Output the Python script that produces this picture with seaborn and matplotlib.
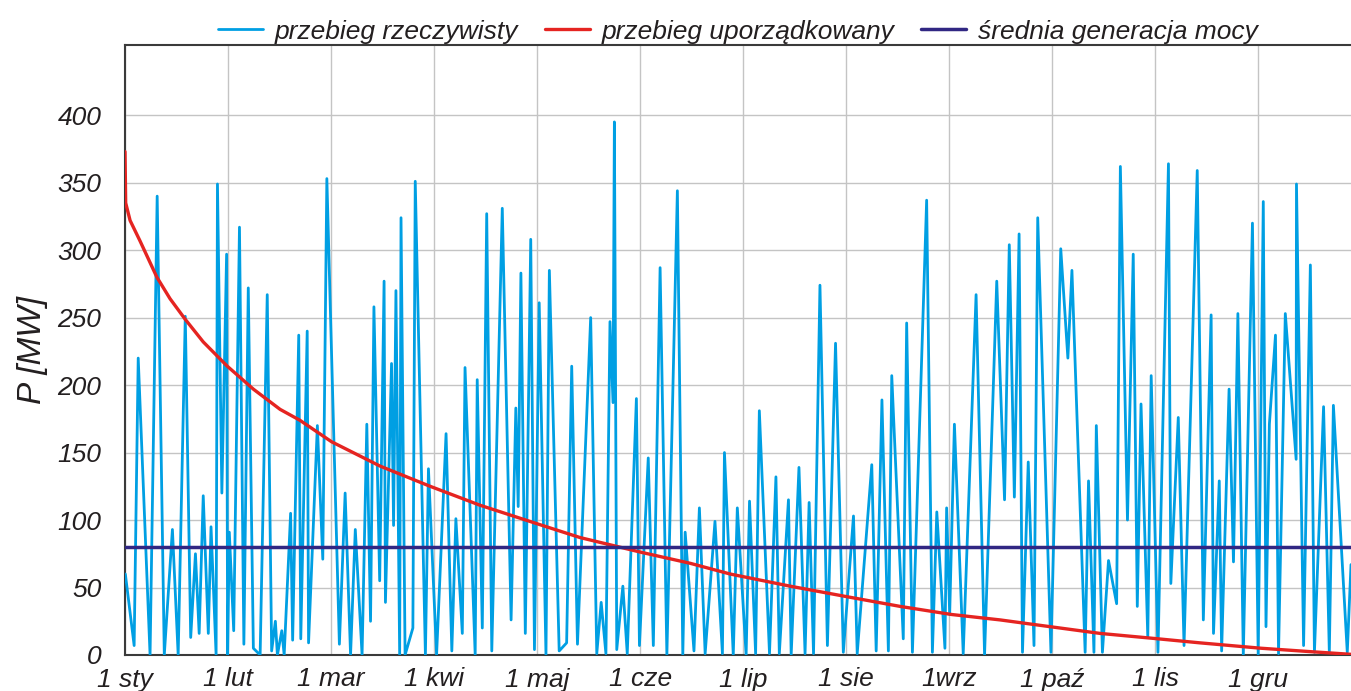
import seaborn as sns
import matplotlib.pyplot as plt
import pandas as pd

# dzien roku (przeliczony z osi) i moc [MW] - przebieg rzeczywisty
dni = [0.1, 2.7, 3.9, 7.4, 9.5, 11.6, 14.0, 15.7, 17.8, 19.4, 20.8, 21.9, 23.1, 24.6, 25.4, 26.9,
       27.3, 28.6, 30.0, 30.3, 30.8, 32.1, 33.8, 35.1, 36.4, 37.9, 39.9, 42.0, 43.3, 44.4, 45.0,
       46.3, 47.0, 48.9, 49.5, 51.3, 51.9, 53.8, 54.2, 56.8, 58.4, 59.6, 63.3, 65.0, 66.6, 68.0,
       70.0, 71.4, 72.5, 73.5, 75.2, 76.5, 76.9, 78.7, 79.3, 80.0, 81.1, 81.5, 82.7, 85.0, 85.7,
       88.7, 89.6, 92.0, 94.8, 96.5, 97.7, 99.6, 100.4, 103.4, 104.0, 105.5, 106.8, 108.3, 111.4,
       114.0, 115.4, 116.1, 116.9, 118.2, 119.8, 120.9, 122.3, 124.3, 125.3, 128.2, 130.4, 131.9,
       133.6, 137.5, 139.3, 140.6, 142.0, 143.2, 144.1, 144.5, 145.2, 147.0, 148.3, 151.0, 151.9,
       154.5, 156.0, 158.0, 160.0, 163.1, 164.7, 165.4, 168.0, 169.6, 171.3, 174.2, 176.4, 177.0,
       179.6, 180.8, 183.4, 184.4, 186.2, 187.3, 190.3, 192.2, 193.2, 195.9, 196.7, 199.0, 200.8,
       202.0, 203.3, 205.2, 207.4, 209.8, 212.1, 215.1, 216.2, 220.5, 221.8, 223.5, 225.4, 226.4,
       229.8, 230.8, 232.5, 236.7, 238.4, 239.7, 242.1, 242.6, 243.5, 244.9, 247.5, 251.3, 253.8,
       257.4, 259.7, 261.1, 262.6, 264.0, 265.0, 266.7, 268.4, 269.5, 273.4, 276.3, 278.4, 279.6,
       283.5, 284.5, 286.1, 286.8, 288.6, 290.4, 292.8, 293.9, 296.0, 297.7, 298.9, 300.0, 302.0,
       303.0, 305.0, 308.1, 308.8, 311.0, 312.7, 316.6, 318.4, 320.7, 321.4, 323.1, 323.8, 326.0,
       327.3, 328.6, 330.2, 332.9, 334.6, 336.1, 336.9, 337.9, 339.7, 340.6, 342.6, 345.8, 345.9,
       348.0, 350.0, 351.2, 353.9, 355.6, 356.8, 360.9, 362.0]
moc = [60, 7, 220, 0, 340, 0, 93, 0, 251, 13, 75, 16, 118, 16, 95, 0,
       349, 120, 297, 0, 91, 18, 317, 8, 272, 5, 0, 267, 3, 25, 0,
       18, 0, 105, 11, 237, 12, 240, 9, 170, 71, 353, 8, 120, 0, 93,
       0, 171, 25, 258, 55, 277, 39, 216, 96, 270, 0, 324, 0, 20, 351,
       0, 138, 0, 164, 3, 101, 16, 213, 0, 204, 20, 327, 3, 331,
       26, 183, 110, 283, 16, 308, 4, 261, 0, 285, 3, 9, 214,
       8, 250, 1, 39, 1, 247, 187, 395, 4, 51, 1, 190, 7,
       146, 7, 287, 0, 344, 0, 91, 3, 109, 1, 99, 1, 150,
       0, 109, 0, 114, 1, 181, 1, 132, 1, 115, 0, 139, 1,
       113, 1, 274, 7, 231, 2, 103, 1, 141, 3, 189, 3, 207,
       12, 246, 2, 337, 2, 106, 5, 109, 30, 171, 1, 267, 0,
       277, 115, 304, 117, 312, 2, 143, 7, 324, 2, 301, 220, 285,
       2, 129, 2, 170, 2, 70, 38, 362, 100, 297, 36, 186, 13,
       207, 2, 364, 53, 176, 7, 359, 26, 252, 16, 129, 3, 197,
       69, 253, 0, 320, 0, 336, 21, 171, 237, 1, 253, 145, 349,
       7, 289, 2, 184, 2, 185, 2, 67]

dni_up = [0.0, 0.2, 1.5, 4.4, 9.4, 13.3, 17.7, 23.1, 30.2, 37.9, 45.8, 51.6, 61.0, 75.3, 90.1,
          104.8, 122.0, 134.4, 152.6, 166.8, 178.7, 196.4, 213.6, 228.9, 244.1, 258.4, 267.2,
          287.9, 305.0, 317.4, 335.5, 349.9, 362.0]
moc_up = [373, 335, 322, 307, 280, 264, 249, 232, 214, 197, 182, 174, 158, 140, 125,
          111, 97, 87, 76, 68, 60, 51, 43, 36, 30, 26, 23,
          16, 12, 9, 5, 2.5, 0.5]

sr_moc = 80

miesiace = ['1 sty', '1 lut', '1 mar', '1 kwi', '1 maj', '1 cze', '1 lip', '1 sie',
            '1wrz', '1 paź', '1 lis', '1 gru']

txt = '#231f20'
sns.set_style('white')
plt.rcParams['font.family'] = ['Liberation Sans', 'DejaVu Sans']

fig = plt.figure(figsize=(13.51, 6.91), dpi=100)
ax = fig.add_axes([125 / 1351, 36 / 691, 1 - 125 / 1351, (655 - 45) / 691])

df = pd.DataFrame({'dzien': dni, 'P': moc})
df_up = pd.DataFrame({'dzien': dni_up, 'P': moc_up})

sns.lineplot(data=df, x='dzien', y='P', color='#009fe3', lw=2.0, estimator=None,
             label='przebieg rzeczywisty', ax=ax, zorder=3)
sns.lineplot(data=df_up, x='dzien', y='P', color='#e52421', lw=2.4, estimator=None,
             label='przebieg uporządkowany', ax=ax, zorder=4)
ax.axhline(sr_moc, color='#312783', lw=2.5, label='średnia generacja mocy', zorder=5)

ax.set_xlim(0, 362)
ax.set_ylim(0, 452)
ax.set_xticks([i * 365 / 12 for i in range(12)])
ax.set_xticklabels(miesiace)
ax.set_yticks(range(0, 401, 50))
ax.grid(True, color='#c4c4c4', lw=1)
ax.set_axisbelow(True)

for s in ['left', 'bottom', 'top']:
    ax.spines[s].set_color('#3a3a3a')
    ax.spines[s].set_linewidth(1.5)
ax.spines['right'].set_visible(False)

ax.tick_params(axis='both', direction='out', length=6, width=1.2, color='#3a3a3a',
               labelsize=19, labelcolor=txt)
ax.tick_params(axis='y', pad=11)
ax.tick_params(axis='x', pad=3)
for t in ax.get_xticklabels() + ax.get_yticklabels():
    t.set_fontstyle('italic')

ax.set_xlabel('')
ax.set_ylabel('P [MW]', fontsize=24, fontstyle='italic', color=txt, labelpad=7)

ax.legend(loc='lower center', bbox_to_anchor=(0.5, 0.985), ncol=3, frameon=False,
          prop={'size': 19, 'style': 'italic'}, handlelength=1.7, handletextpad=0.45,
          columnspacing=1.0, borderaxespad=0, labelcolor=txt)

fig.savefig('out.png', dpi=100)
